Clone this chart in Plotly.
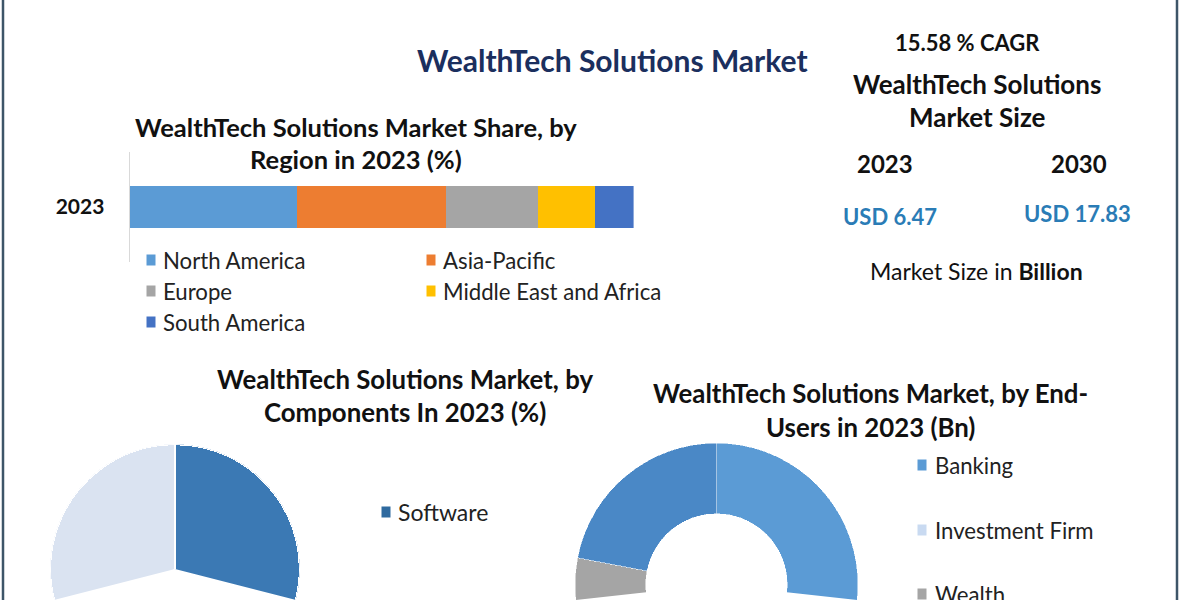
import numpy as np
import plotly.graph_objects as go

W, H = 1200, 600

# ---------------- data ----------------
bar_year = ["2023"]
regions = ["North America", "Asia-Pacific", "Europe", "Middle East and Africa", "South America"]
region_share = [33.3, 29.4, 18.4, 11.2, 7.7]
region_colors = ["#5b9bd5", "#ed7d31", "#a5a5a5", "#ffc000", "#4472c4"]

components = ["Software", "Services"]
component_share = [58.5, 41.5]
component_colors = ["#3b79b4", "#dae3f1"]

end_users = ["Banking", "Investment Firm", "Wealth", "Others"]
end_user_value = [45, 19, 14, 22]
end_user_colors = ["#5b9bd5", "#c9daf1", "#a5a5a5", "#4a88c6"]

market_years = ["2023", "2030"]
market_size_bn = [6.47, 17.83]
cagr_pct = 15.58

FONT = "Lato"


def px(x):
    return x / W


def py(y):
    return 1 - y / H


def wedges(values):
    v = np.asarray(values, dtype=float)
    widths = v / v.sum() * 360.0
    starts = np.concatenate([[0.0], np.cumsum(widths)[:-1]])
    return starts + widths / 2, widths


fig = go.Figure()

# stacked bar
for name, val, col in zip(regions, region_share, region_colors):
    fig.add_trace(go.Bar(x=[val], y=bar_year, orientation="h", name=name,
                         marker=dict(color=col, line=dict(width=0)),
                         showlegend=False, hoverinfo="x+name"))

# components pie (barpolar so it can be cut by the frame)
th, wd = wedges(component_share)
fig.add_trace(go.Barpolar(r=[1] * len(components), theta=th, width=wd,
                          marker=dict(color=component_colors, line=dict(color="white", width=2.5)),
                          text=components, showlegend=False, subplot="polar"))

# end-users donut
th2, wd2 = wedges(end_user_value)
fig.add_trace(go.Barpolar(r=[1] * len(end_users), theta=th2, width=wd2,
                          marker=dict(color=end_user_colors, line=dict(color="white", width=0.5)),
                          text=end_users, showlegend=False, subplot="polar2"))

ann = []


def text(x, y, s, size, color="#111111", bold=False, xanchor="center", family=FONT):
    ann.append(dict(x=px(x), y=py(y), xref="paper", yref="paper", text=(f"<b>{s}</b>" if bold else s),
                    showarrow=False, xanchor=xanchor, yanchor="middle",
                    font=dict(family=family, size=size, color=color)))


shapes = []


def swatch(cx, cy, color, w=9, h=11):
    shapes.append(dict(type="rect", xref="paper", yref="paper",
                       x0=px(cx - w / 2), x1=px(cx + w / 2), y0=py(cy + h / 2), y1=py(cy - h / 2),
                       fillcolor=color, line=dict(width=0)))


# main title
text(612, 60, "WealthTech Solutions Market", 30, color="#1b2f5e", bold=True)

# right info panel
text(967, 43, f"{cagr_pct:.2f} % CAGR", 22, bold=True)
text(977, 84, "WealthTech Solutions", 26, bold=True)
text(977, 117, "Market Size", 26, bold=True)
text(885, 163, market_years[0], 24, bold=True)
text(1079, 163, market_years[1], 24, bold=True)
text(890, 216, f"USD {market_size_bn[0]}", 22, color="#2a7cb6", bold=True)
text(1077, 213, f"USD {market_size_bn[1]}", 22, color="#2a7cb6", bold=True)
text(976, 271, "Market Size in <b>Billion</b>", 23)

# bar chart title
text(356, 127, "WealthTech Solutions Market Share, by", 25.5, bold=True)
text(356, 159, "Region in 2023 (%)", 25.5, bold=True)

# bar legend
leg_pos = [(151, 260), (431, 260), (151, 291), (431, 291), (151, 322)]
for (lx, ly), name, col in zip(leg_pos, regions, region_colors):
    swatch(lx, ly, col)
    text(lx + 10, ly, name, 22.2, color="#222222", xanchor="left")

# components pie title + legend
text(405, 379, "WealthTech Solutions Market, by", 25.8, bold=True)
text(405, 412, "Components In 2023 (%)", 25.8, bold=True)
swatch(386, 512, "#2f6a9f")
text(396, 512, components[0], 23, color="#222222", xanchor="left")

# donut title + legend
text(870, 393, "WealthTech Solutions Market, by End-", 25.8, bold=True)
text(870, 427, "Users in 2023 (Bn)", 25.8, bold=True)
for ly, name, col in zip([465, 530, 594], end_users[:3], end_user_colors[:3]):
    swatch(922, ly, col)
    text(933, ly, name, 22.2, color="#222222", xanchor="left")

# frame lines
for xx in (3, 1177):
    shapes.append(dict(type="line", xref="paper", yref="paper", x0=px(xx), x1=px(xx), y0=0, y1=1,
                       line=dict(color="#3d5568", width=2.5)))

# polar geometry
c1x, c1y, r1 = 175, 569, 125
c2x, c2y, r2 = 716.5, 584.5, 141.5
a1 = np.degrees(np.arcsin((H - c1y) / r1))
a2 = np.degrees(np.arcsin((H - c2y) / r2))

fig.update_layout(
    width=W, height=H, margin=dict(l=0, r=0, t=0, b=0),
    paper_bgcolor="white", plot_bgcolor="white",
    barmode="stack", bargap=0.613,
    xaxis=dict(domain=[px(129.6), px(633.6)], range=[0, 100], visible=False, fixedrange=True),
    yaxis=dict(domain=[py(262), py(152)], showline=True, linecolor="#d9d9d9", linewidth=1,
               ticks="outside", ticklen=20, tickcolor="rgba(0,0,0,0)",
               tickfont=dict(family=FONT, size=21, color="#111111", weight="bold"),
               showgrid=False, zeroline=False, fixedrange=True),
    polar=dict(domain=dict(x=[px(c1x - r1), px(c1x + r1)], y=[0, (r1 + (H - c1y)) / H]),
               sector=[-a1, 180 + a1], bgcolor="rgba(0,0,0,0)",
               angularaxis=dict(rotation=90, direction="clockwise", visible=False),
               radialaxis=dict(range=[0, 1], visible=False)),
    polar2=dict(domain=dict(x=[px(c2x - r2), px(c2x + r2)], y=[0, (r2 + (H - c2y)) / H]),
                sector=[-a2, 180 + a2], hole=0.5, bgcolor="rgba(0,0,0,0)",
                angularaxis=dict(rotation=90, direction="clockwise", visible=False),
                radialaxis=dict(range=[0, 1], visible=False)),
    annotations=ann, shapes=shapes,
)

fig.write_html("out.html")
